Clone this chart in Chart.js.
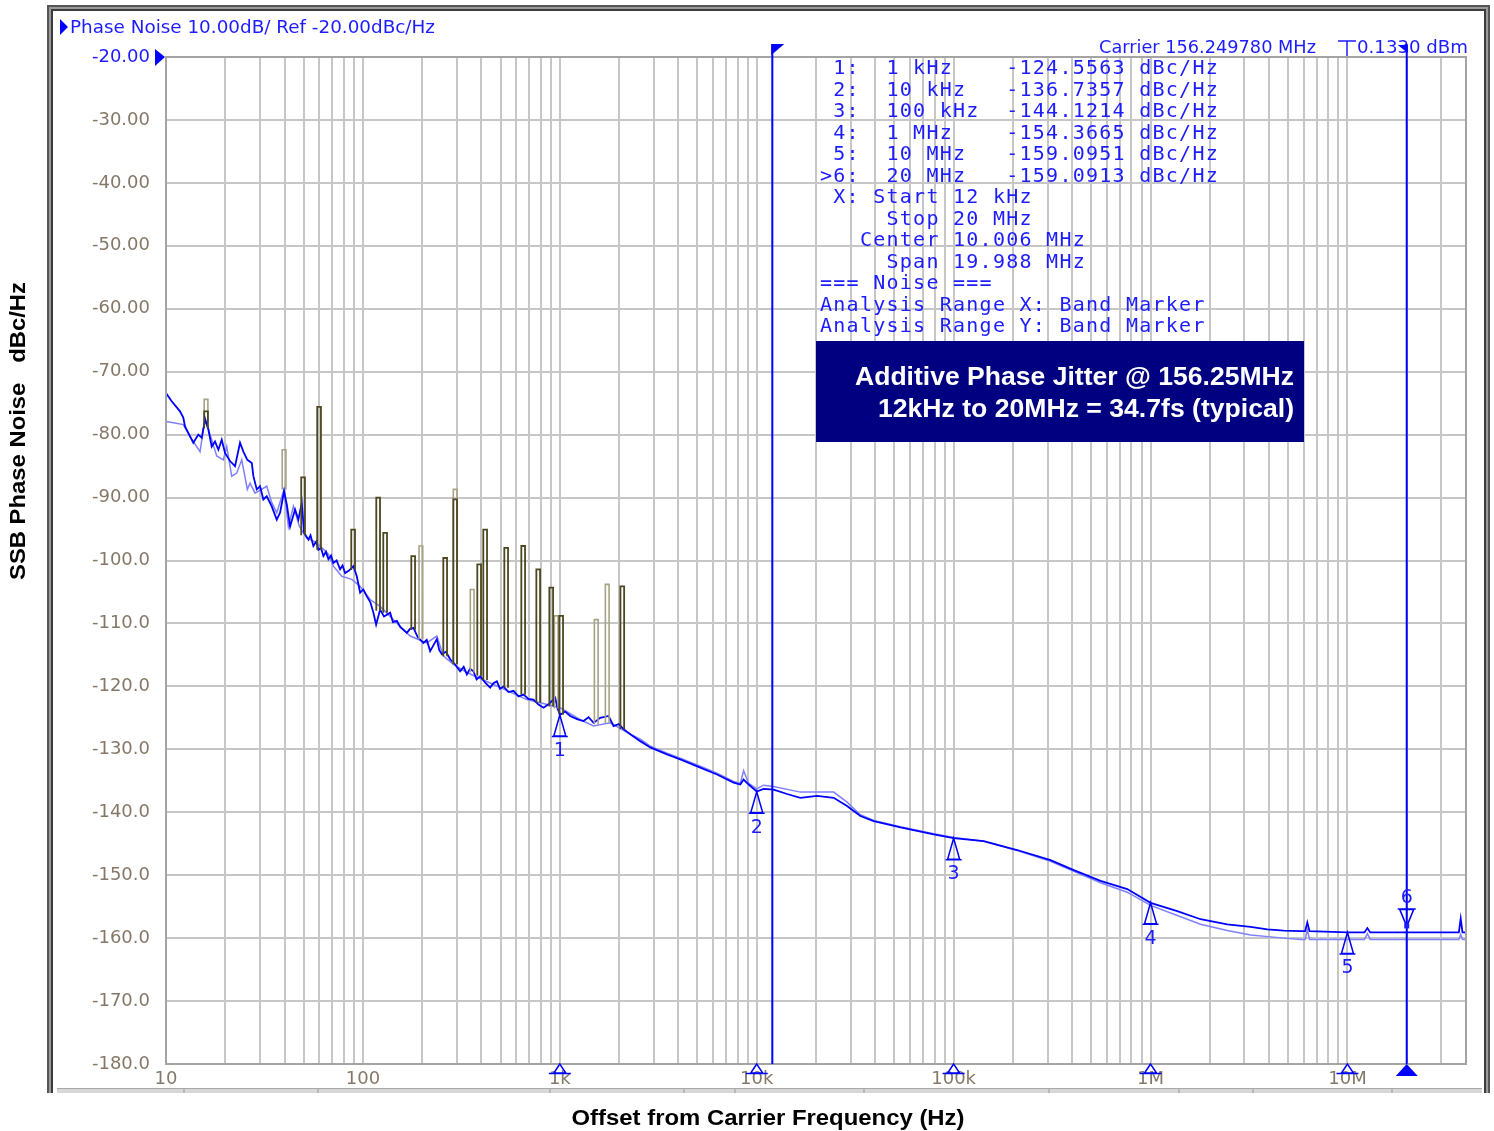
<!DOCTYPE html>
<html>
<head>
<meta charset="utf-8">
<title>SSB Phase Noise</title>
<script src="https://cdn.jsdelivr.net/npm/chart.js@4.4.1/dist/chart.umd.min.js"></script>
<style>
  html, body { margin: 0; padding: 0; background: #fff; }
  canvas { display: block; }
</style>
</head>
<body>
<canvas id="pn-chart" width="1494" height="1131"></canvas>
<script>
// --- axes ---
const X_MIN_HZ = 10;
const X_MAX_HZ = 4e7;
const X_TICK_HZ = [10, 100, 1e3, 1e4, 1e5, 1e6, 1e7];
const X_TICK_LABELS = ['10', '100', '1k', '10k', '100k', '1M', '10M'];
const X_MINOR_STEPS = [2, 3, 4, 5, 6, 7, 8, 9];
const Y_TICKS = [-20, -30, -40, -50, -60, -70, -80, -90, -100, -110, -120, -130, -140, -150, -160, -170, -180];
const Y_TICK_LABELS = ['-20.00', '-30.00', '-40.00', '-50.00', '-60.00', '-70.00', '-80.00', '-90.00',
  '-100.0', '-110.0', '-120.0', '-130.0', '-140.0', '-150.0', '-160.0', '-170.0', '-180.0'];

// --- trace 1 (dark blue) : offset Hz / dBc/Hz ---
const MAIN_HZ = [10, 10.69, 11.78, 12.24, 12.49, 13.51, 13.76, 14.59, 15.19, 15.79, 16.41, 17.07, 17.74, 18.45,
  19.19, 19.94, 21.14, 22.42, 23.77, 24.71, 25.89, 27.27, 27.78, 28.9, 30.03, 31.22, 32.49, 34.44, 36.52, 37.96,
  39.78, 41.06, 42.67, 45.24, 47.03, 48.93, 50.26, 52.86, 54.2, 56.04, 57.9, 59.41, 61.2, 63.0, 64.9, 66.8, 68.9, 70.8,
  73.5, 76.6, 78.8, 81.2, 85.0, 89.5, 93.1,
  96.8, 100.5, 104.7, 109.0, 113.1, 116.7, 122.3, 128.0, 137.5, 142.0, 148.7, 155.0, 167.2, 173.0, 180.6, 190.0, 203.0,
  211.0, 219.5, 237.4, 244.0, 251.7, 264.0, 277.4, 292.0, 311.8, 325.0, 337.3, 350.0,
  364.3, 378.0, 393.9, 418.0, 443.0, 460.0, 479.0, 497.0, 517.5, 549.0, 581.9, 617.0, 654.1, 693.0, 735.3, 779.0,
  826.6, 880.0, 947.6, 975.0, 1005, 1065, 1129, 1222, 1319, 1400, 1484, 1605, 1768,
  1875, 1990, 2108, 2279, 2562, 2881, 3502, 4091, 5169, 6285, 7631, 8255, 8578, 9097, 10000, 10840, 12190, 14260, 16650,
  20250, 24590, 28760, 33610, 39270, 53680, 79200, 100000, 142200, 210200, 310500, 407700, 557200, 761500, 1000000,
  1367000, 1795000, 2453000, 3222000, 3917000, 4758000, 5784000, 6100000, 6255000, 6420000, 10000000, 12200000,
  12620000, 13050000, 36800000, 37600000, 38400000, 40000000];
const MAIN_DBC = [-73.4, -74.7, -76.3, -77.3, -78.7, -80.8, -81.3, -80.0, -80.5, -77.6, -79.2, -81.9, -81.1, -82.4,
  -80.8, -82.9, -84.2, -85.0, -81.3, -82.7, -84.0, -84.5, -86.6, -88.7, -88.2, -90.3, -89.8, -91.4, -93.5, -92.4,
  -89.0, -91.1, -94.6, -91.9, -93.5, -90.8, -95.6, -96.7, -96.0, -97.7, -97.0, -98.3, -98.0, -99.3, -98.6, -99.8, -99.2, -100.4,
  -100.0, -101.4, -100.8, -102.0, -101.6, -100.9, -102.5,
  -105.1, -104.6, -105.7, -106.6, -108.3, -110.2, -107.8, -108.9, -108.3, -109.8, -109.6, -110.6, -111.5, -110.9, -110.7, -112.2, -113.1,
  -112.6, -114.4, -112.5, -114.2, -114.9, -114.5, -115.7, -116.4, -117.6, -116.9, -118.1, -117.2,
  -117.6, -118.9, -118.4, -119.4, -120.2, -119.5, -119.2, -120.4, -120.0, -120.9, -120.7, -121.6, -121.3, -122.0, -122.1, -122.9,
  -123.4, -122.8, -121.8, -123.6, -124.5, -124.0, -124.7, -125.2, -125.5, -124.9, -125.8, -125.0, -124.7,
  -126.3, -126.0, -126.8, -127.6, -128.7, -129.7, -130.8, -131.6, -132.9, -134.0, -135.3, -135.6, -134.8, -135.6, -136.7, -136.3, -136.4, -137.1, -137.7,
  -137.4, -137.7, -139.0, -140.6, -141.4, -142.4, -143.5, -144.1, -144.6, -146.0, -147.6, -149.2, -150.9, -152.2, -154.4,
  -155.7, -157.0, -157.8, -158.2, -158.6, -158.8, -158.9, -158.9, -157.5, -158.9, -159.1, -159.1,
  -158.4, -159.1, -159.1, -156.9, -159.1, -159.1];

// --- trace 2 (light blue, memory trace) ---
const LIGHT_HZ = [10, 10.89, 12.24, 13.24, 14.89, 15.79, 16.74, 18.1, 19.55, 20.34, 21.57, 22.87, 24.25, 25.89,
  26.72, 28.33, 32.49, 34.44, 36.52, 39.78, 41.83, 44.36, 47.58, 51.88, 58.32, 66.8, 70.8, 78.13, 87.8, 96.8,
  108.8, 122.3, 142.9, 173.7, 211.2, 237.4, 256.4, 288.3, 337.3, 460.3, 680.6, 1005, 1270, 1484, 1804, 2193,
  2562, 2881, 3502, 4091, 5169, 6285, 7631, 8255, 8578, 9097, 10000, 10840, 12190, 16650, 24590, 28760, 33610,
  39270, 53680, 79200, 100000, 142200, 210200, 310500, 407700, 557200, 761500, 1000000, 1367000, 1795000,
  2453000, 3222000, 4758000, 5784000, 6100000, 6255000, 6420000, 12200000, 12620000, 13050000, 36800000,
  37600000, 38400000, 40000000];
const LIGHT_DBC = [-77.9, -78.1, -78.4, -80.3, -82.7, -77.3, -80.0, -83.4, -84.0, -81.9, -86.6, -86.1, -84.0, -88.7,
  -87.7, -89.3, -88.2, -90.8, -92.4, -88.7, -94.6, -91.4, -94.6, -96.4, -97.2, -99.0, -100.9, -102.5, -103.0, -104.1,
  -106.2, -107.3, -109.4, -112.0, -113.1, -112.0, -115.2, -116.5, -117.8, -119.7, -122.1, -123.4, -125.3, -126.3, -125.8, -127.3,
  -128.4, -129.5, -130.6, -131.4, -132.7, -133.8, -135.1, -135.4, -133.4, -135.4, -136.3, -135.7, -135.9, -136.8, -136.8, -138.4, -140.4,
  -141.3, -142.3, -143.4, -144.0, -144.6, -146.1, -147.8, -149.4, -151.2, -152.7, -154.8, -156.4, -157.8,
  -158.8, -159.5, -160.0, -160.2, -160.2, -158.7, -160.2, -160.2, -159.3, -160.2, -160.2,
  -159.4, -160.2, -160.2];

// --- spurs (olive) : frequency, peak level, floor level ---
const SPUR_HZ = [15.97, 49.68, 59.9, 89.2, 119.5, 129.7, 180.0, 261.7, 294.2, 389.4, 417.7, 534.1, 651.6, 776.8, 904.3, 1016, 2076];
const SPUR_PEAK = [-76.3, -86.8, -75.6, -95.1, -90.0, -95.6, -99.3, -99.6, -90.3, -100.6, -95.1, -98.0, -97.7, -101.4, -104.3, -108.8, -104.1];
const SPUR_BASE = [-79.0, -96.0, -98.3, -101.5, -108.0, -108.3, -111.0, -115.2, -116.5, -118.3, -119.0, -120.2, -121.3, -122.6, -123.2, -124.5, -126.8];
const LIGHT_SPUR_HZ = [15.97, 39.78, 197.0, 294.2, 358.9, 958.9, 1531, 1741];
const LIGHT_SPUR_PEAK = [-74.4, -82.4, -97.7, -88.7, -104.6, -108.8, -109.4, -103.8];
const LIGHT_SPUR_BASE = [-78.0, -88.7, -112.5, -116.5, -117.8, -123.5, -126.0, -125.8];

// --- markers & band ---
const MARKER_HZ = [1e3, 1e4, 1e5, 1e6, 1e7, 2e7];
const MARKER_DBC = [-124.5563, -136.7357, -144.1214, -154.3665, -159.0951, -159.0913];
const BAND_START_HZ = 12e3;
const BAND_STOP_HZ = 20e6;
const READOUT_LINES = [
  ' 1:  1 kHz    -124.5563 dBc/Hz',
  ' 2:  10 kHz   -136.7357 dBc/Hz',
  ' 3:  100 kHz  -144.1214 dBc/Hz',
  ' 4:  1 MHz    -154.3665 dBc/Hz',
  ' 5:  10 MHz   -159.0951 dBc/Hz',
  '>6:  20 MHz   -159.0913 dBc/Hz',
  ' X: Start 12 kHz',
  '     Stop 20 MHz',
  '   Center 10.006 MHz',
  '     Span 19.988 MHz',
  '=== Noise ===',
  'Analysis Range X: Band Marker',
  'Analysis Range Y: Band Marker'
];
const JITTER_LINES = ['Additive Phase Jitter @ 156.25MHz', '12kHz to 20MHz = 34.7fs (typical)'];

// --- colours ---
const BLUE = '#0000ff';
const TEXT_BLUE = '#1c1cff';
const LABEL_GREY = '#857868';
const GRID_GREY = '#c6c6c6';

// grid ticks: every 1..9 x decade
const X_GRID_HZ = [];
X_TICK_HZ.forEach(d => {
  X_GRID_HZ.push(d);
  X_MINOR_STEPS.forEach(k => { if (d * k <= X_MAX_HZ) X_GRID_HZ.push(d * k); });
});

function toPoints(hz, dbc) {
  return hz.map((f, i) => ({ x: f, y: dbc[i] }));
}

// each spur is a narrow hollow bar on the log axis
const SPUR_HALF = 1.022;
function spurPoints(hz, peak, base) {
  const pts = [];
  hz.forEach((f, i) => {
    const lo = f / SPUR_HALF, hi = f * SPUR_HALF;
    pts.push({ x: lo, y: base[i] }, { x: lo, y: peak[i] }, { x: hi, y: peak[i] }, { x: hi, y: base[i] }, { x: hi, y: null });
  });
  return pts;
}

// draw text squeezed/stretched to a given width
function fitText(ctx, text, x, y, width, align) {
  const w = ctx.measureText(text).width;
  ctx.save();
  ctx.translate(x, y);
  ctx.scale(width / w, 1);
  ctx.textAlign = 'left';
  const x0 = align === 'right' ? -w : (align === 'center' ? -w / 2 : 0);
  ctx.fillText(text, x0, 0);
  ctx.restore();
}

const analyserDecor = {
  id: 'analyserDecor',
  beforeDraw(chart) {
    const ctx = chart.ctx;
    ctx.save();
    ctx.fillStyle = '#fff';
    ctx.fillRect(0, 0, chart.width, chart.height);
    // window frame
    ctx.fillStyle = '#555';
    ctx.fillRect(47, 5, 1443, 2);
    ctx.fillRect(47, 5, 2, 1088);
    ctx.fillRect(1488, 5, 2, 1088);
    ctx.fillStyle = '#9a9a9a';
    ctx.fillRect(49, 7, 1439, 2);
    ctx.fillRect(49, 7, 2, 1086);
    ctx.fillRect(1486, 7, 2, 1086);
    ctx.fillStyle = '#3c3c3c';
    ctx.fillRect(51, 9, 1435, 2);
    ctx.fillRect(51, 9, 2, 1084);
    ctx.fillRect(1484, 9, 2, 1084);
    // status bar strip at the bottom
    ctx.fillStyle = '#a8a8a8';
    ctx.fillRect(57, 1088, 1425, 1);
    ctx.fillStyle = '#d8d8d8';
    ctx.fillRect(57, 1089, 1425, 4);
    ctx.fillStyle = '#b8b8b8';
    [183, 317, 549, 683, 734, 863, 1048, 1178, 1252, 1391].forEach(x => ctx.fillRect(x, 1089, 2, 4));
    ctx.restore();
  },
  afterDatasetsDraw(chart) {
    const ctx = chart.ctx;
    const xs = chart.scales.x, ys = chart.scales.y;
    const a = chart.chartArea;
    ctx.save();

    // plot border
    ctx.strokeStyle = '#a4a4a4';
    ctx.lineWidth = 2;
    ctx.strokeRect(a.left, a.top, a.right - a.left, a.bottom - a.top);

    // readout text (monospace, fixed pitch)
    ctx.fillStyle = TEXT_BLUE;
    ctx.font = '20px "DejaVu Sans Mono", "Liberation Mono", monospace';
    ctx.textBaseline = 'middle';
    ctx.textAlign = 'left';
    READOUT_LINES.forEach((line, r) => {
      for (let c = 0; c < line.length; c++) {
        if (line[c] !== ' ') ctx.fillText(line[c], 820 + c * 13.3, 69 + r * 21.5);
      }
    });

    // top-left title
    ctx.fillStyle = BLUE;
    ctx.beginPath();
    ctx.moveTo(60, 19); ctx.lineTo(68, 27); ctx.lineTo(60, 35); ctx.closePath(); ctx.fill();
    ctx.fillStyle = TEXT_BLUE;
    ctx.font = '18px "DejaVu Sans", Verdana, sans-serif';
    fitText(ctx, 'Phase Noise 10.00dB/ Ref -20.00dBc/Hz', 70, 28, 365, 'left');

    // reference marker on -20 label
    ctx.fillStyle = BLUE;
    ctx.beginPath();
    ctx.moveTo(155, 49); ctx.lineTo(165, 57); ctx.lineTo(155, 66); ctx.closePath(); ctx.fill();

    // carrier readout
    ctx.fillStyle = TEXT_BLUE;
    fitText(ctx, 'Carrier 156.249780 MHz', 1099, 48, 217, 'left');
    fitText(ctx, '0.1330 dBm', 1357, 48, 111, 'left');
    ctx.strokeStyle = TEXT_BLUE;
    ctx.lineWidth = 1.5;
    ctx.beginPath();
    ctx.moveTo(1338, 41); ctx.lineTo(1356, 41);
    ctx.moveTo(1347, 41); ctx.lineTo(1347, 56);
    ctx.stroke();

    // band marker lines (12 kHz .. 20 MHz)
    const xb1 = xs.getPixelForValue(BAND_START_HZ);
    const xb2 = xs.getPixelForValue(BAND_STOP_HZ);
    ctx.strokeStyle = BLUE;
    ctx.lineWidth = 2;
    ctx.beginPath();
    ctx.moveTo(xb1, 44); ctx.lineTo(xb1, a.bottom);
    ctx.moveTo(xb2, 44); ctx.lineTo(xb2, a.bottom);
    ctx.stroke();
    ctx.fillStyle = BLUE;
    ctx.beginPath();
    ctx.moveTo(xb1 - 1, 44); ctx.lineTo(xb1 + 12, 44); ctx.lineTo(xb1 - 1, 55); ctx.closePath(); ctx.fill();
    ctx.beginPath();
    ctx.moveTo(xb2 + 1, 45); ctx.lineTo(xb2 - 9, 45); ctx.lineTo(xb2 + 1, 53); ctx.closePath(); ctx.fill();

    // trace markers
    ctx.font = '19px "DejaVu Sans", Verdana, sans-serif';
    ctx.textAlign = 'center';
    ctx.textBaseline = 'middle';
    ctx.lineWidth = 1.5;
    MARKER_HZ.forEach((f, i) => {
      const x = xs.getPixelForValue(f);
      const y = ys.getPixelForValue(MARKER_DBC[i]);
      const active = i === MARKER_HZ.length - 1;
      ctx.strokeStyle = BLUE;
      ctx.fillStyle = TEXT_BLUE;
      ctx.beginPath();
      if (!active) {
        ctx.moveTo(x, y); ctx.lineTo(x - 6, y + 21); ctx.lineTo(x + 6, y + 21); ctx.closePath();
        ctx.moveTo(x - 8, y + 21.5); ctx.lineTo(x + 8, y + 21.5);
        ctx.stroke();
        ctx.fillText(String(i + 1), x, y + 36);
      } else {
        const t = y - 6;
        ctx.moveTo(x, t); ctx.lineTo(x - 7, t - 17); ctx.lineTo(x + 7, t - 17); ctx.closePath();
        ctx.moveTo(x - 9, t - 17.5); ctx.lineTo(x + 9, t - 17.5);
        ctx.stroke();
        ctx.fillRect(x - 2.5, t - 3, 5, 5);
        ctx.fillText(String(i + 1), x, t - 28);
      }
      // marker flag on the frequency axis
      const yb = a.bottom;
      ctx.beginPath();
      if (!active) {
        ctx.moveTo(x, yb); ctx.lineTo(x - 6, yb + 9); ctx.lineTo(x + 6, yb + 9); ctx.closePath();
        ctx.moveTo(x - 11, yb + 9.5); ctx.lineTo(x + 11, yb + 9.5);
        ctx.stroke();
      } else {
        ctx.moveTo(x, yb); ctx.lineTo(x - 11, yb + 12); ctx.lineTo(x + 11, yb + 12); ctx.closePath();
        ctx.fillStyle = BLUE;
        ctx.fill();
      }
    });

    // jitter note box
    ctx.fillStyle = '#000080';
    ctx.fillRect(816, 341, 488, 101);
    ctx.fillStyle = '#fff';
    ctx.font = 'bold 25px "Liberation Sans", Arial, sans-serif';
    ctx.textBaseline = 'middle';
    fitText(ctx, JITTER_LINES[0], 1294, 378, 439, 'right');
    fitText(ctx, JITTER_LINES[1], 1294, 410, 416, 'right');

    // axis titles
    ctx.fillStyle = '#000';
    ctx.font = 'bold 22px "Liberation Sans", Arial, sans-serif';
    fitText(ctx, 'Offset from Carrier Frequency (Hz)', 768, 1119, 393, 'center');
    ctx.save();
    ctx.translate(19, 431);
    ctx.rotate(-Math.PI / 2);
    fitText(ctx, 'SSB Phase Noise   dBc/Hz', 0, 0, 298, 'center');
    ctx.restore();

    ctx.restore();
  }
};

new Chart(document.getElementById('pn-chart').getContext('2d'), {
  type: 'line',
  data: {
    datasets: [
      {
        label: 'Spurs',
        data: spurPoints(SPUR_HZ, SPUR_PEAK, SPUR_BASE),
        borderColor: '#4c4720',
        borderWidth: 1.8,
        pointRadius: 0,
        spanGaps: false,
        order: 1
      },
      {
        label: 'Spurs (memory)',
        data: spurPoints(LIGHT_SPUR_HZ, LIGHT_SPUR_PEAK, LIGHT_SPUR_BASE),
        borderColor: '#a8a285',
        borderWidth: 1.6,
        pointRadius: 0,
        spanGaps: false,
        order: 2
      },
      {
        label: 'Phase noise',
        data: toPoints(MAIN_HZ, MAIN_DBC),
        borderColor: BLUE,
        borderWidth: 1.8,
        pointRadius: 0,
        tension: 0,
        order: 3
      },
      {
        label: 'Phase noise (memory)',
        data: toPoints(LIGHT_HZ, LIGHT_DBC),
        borderColor: '#8080ff',
        borderWidth: 1.5,
        pointRadius: 0,
        tension: 0,
        order: 4
      }
    ]
  },
  options: {
    responsive: false,
    animation: false,
    layout: { padding: { top: 57, right: 28, bottom: 0, left: 0 } },
    plugins: { legend: { display: false }, tooltip: { enabled: false } },
    scales: {
      x: {
        type: 'logarithmic',
        position: 'bottom',
        min: X_MIN_HZ,
        max: X_MAX_HZ,
        afterBuildTicks: axis => { axis.ticks = X_GRID_HZ.map(v => ({ value: v })); },
        afterFit: axis => { axis.height = 67; },
        grid: { color: GRID_GREY, lineWidth: 2, drawTicks: false },
        border: { display: false },
        ticks: {
          autoSkip: false,
          maxRotation: 0,
          padding: 5,
          color: LABEL_GREY,
          font: { family: '"DejaVu Sans", Verdana, sans-serif', size: 18 },
          callback: v => {
            const i = X_TICK_HZ.indexOf(v);
            return i >= 0 ? X_TICK_LABELS[i] : '';
          }
        }
      },
      y: {
        type: 'linear',
        min: -180,
        max: -20,
        afterBuildTicks: axis => { axis.ticks = Y_TICKS.map(v => ({ value: v })); },
        afterFit: axis => { axis.width = 166; },
        grid: { color: GRID_GREY, lineWidth: 2, drawTicks: false },
        border: { display: false },
        ticks: {
          padding: 16,
          color: c => (c.tick && c.tick.value === -20 ? TEXT_BLUE : LABEL_GREY),
          font: { family: '"DejaVu Sans", Verdana, sans-serif', size: 18 },
          callback: v => Y_TICK_LABELS[Y_TICKS.indexOf(v)]
        }
      }
    }
  },
  plugins: [analyserDecor]
});
</script>
</body>
</html>
